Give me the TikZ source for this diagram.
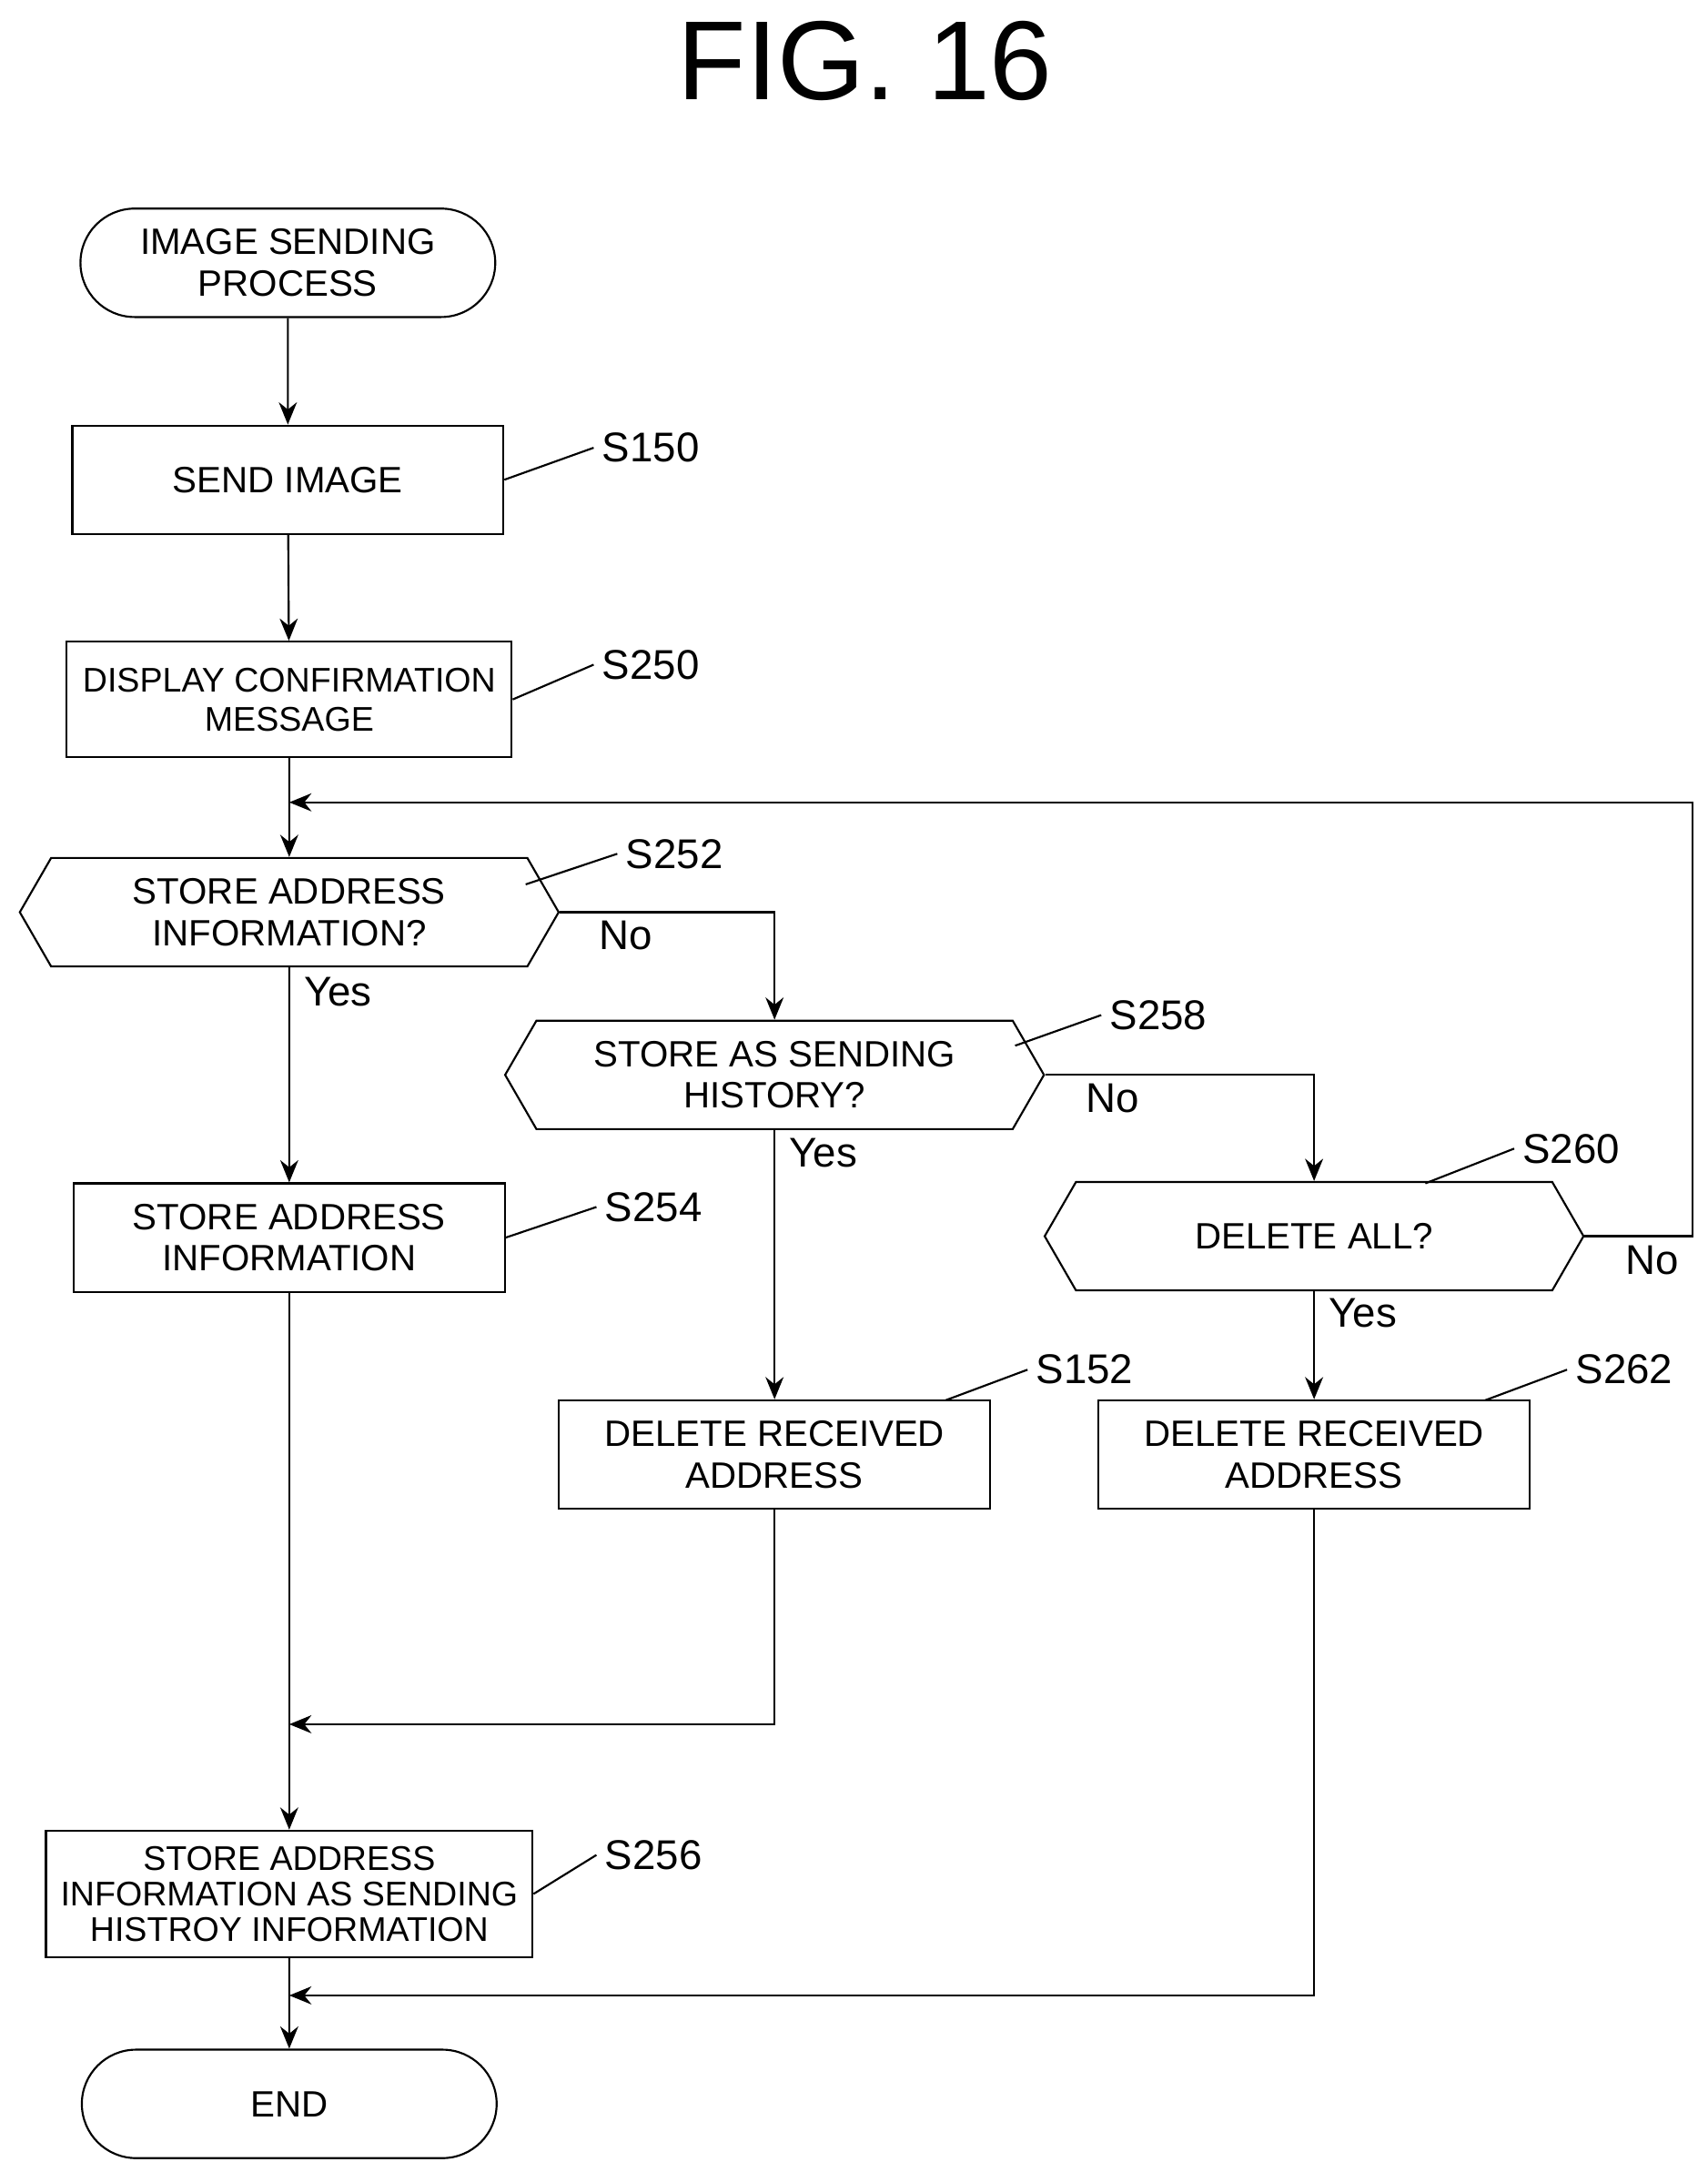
\documentclass[tikz,border=0pt]{standalone}
\usepackage{fontspec}
\setmainfont{Liberation Sans}
\usetikzlibrary{shapes.symbols,shapes.misc,arrows.meta}
\tikzset{
  box/.style={draw, thick, minimum width=6.2cm, minimum height=1.56cm, align=center, inner sep=1pt},
  term/.style={draw, thick, rounded rectangle, minimum width=6.2cm, minimum height=1.56cm, align=center},
  dec/.style={draw, thick, signal, signal to=east and west, signal pointer angle=120, minimum width=7.75cm, minimum height=1.56cm, align=center, inner sep=1pt},
  arr/.style={thick, -{Stealth[length=3.2mm,width=2.6mm]}},
  lead/.style={thick},
  lbl/.style={font=\fontsize{17}{20}\selectfont}
}
\begin{document}
\begin{tikzpicture}[x=0.2mm,y=-0.2mm, every node/.append style={font=\fontsize{15}{17}\selectfont}]
\useasboundingbox (0,0) rectangle (1228,1562);
\node[font=\fontsize{46}{50}\selectfont] (title) at (622,44) {FIG. 16};

\node[term] (start) at (207,189) {IMAGE SENDING\\PROCESS};
\node[box] (s150) at (207,345) {SEND IMAGE};
\node[box, minimum width=6.4cm, minimum height=1.66cm, font=\fontsize{14}{16}\selectfont] (s250) at (208,503) {DISPLAY CONFIRMATION\\MESSAGE};
\node[dec] (s252) at (208,656) {STORE ADDRESS\\INFORMATION?};
\node[dec] (s258) at (557,773) {STORE AS SENDING\\HISTORY?};
\node[dec] (s260) at (945,889) {DELETE ALL?};
\node[box] (s254) at (208,890) {STORE ADDRESS\\INFORMATION};
\node[box] (s152) at (557,1046) {DELETE RECEIVED\\ADDRESS};
\node[box] (s262) at (945,1046) {DELETE RECEIVED\\ADDRESS};
\node[box, minimum width=7cm, minimum height=1.82cm, font=\fontsize{14}{14.5}\selectfont] (s256) at (208,1362) {STORE ADDRESS\\INFORMATION AS SENDING\\HISTROY INFORMATION};
\node[term] (end) at (208,1513) {END};

% step labels
\node[lbl] (l150) at (468,322) {S150};
\node[lbl] (l250) at (468,478) {S250};
\node[lbl] (l252) at (485,614) {S252};
\node[lbl] (l258) at (833,730) {S258};
\node[lbl] (l260) at (1130,826) {S260};
\node[lbl] (l254) at (470,868) {S254};
\node[lbl] (l152) at (780,985) {S152};
\node[lbl] (l262) at (1168,985) {S262};
\node[lbl] (l256) at (470,1334) {S256};
\draw[lead] (s150.east) -- (l150.west);
\draw[lead] (s250.east) -- (l250.west);
\draw[lead] (378,636) -- (l252.west);
\draw[lead] (730,752) -- (l258.west);
\draw[lead] (1025,851) -- (l260.west);
\draw[lead] (s254.east) -- (l254.west);
\draw[lead] (680,1007) -- (l152.west);
\draw[lead] (1068,1007) -- (l262.west);
\draw[lead] (s256.east) -- (l256.west);

% yes / no
\node[lbl] (y252) at (243,713) {Yes};
\node[lbl] (y258) at (592,829) {Yes};
\node[lbl] (y260) at (980,944) {Yes};
\node[lbl] (n252) at (450,673) {No};
\node[lbl] (n258) at (800,790) {No};
\node[lbl] (n260) at (1188,906) {No};

\coordinate (m1) at (208,577);
\coordinate (m2) at (208,1240);
\coordinate (m3) at (208,1435);

\draw[arr] (start) -- (s150);
\draw[arr] (s150) -- (s250);
\draw[arr] (s250) -- (s252);
\draw[arr] (s252) -- (s254);
\draw[arr] (s252.east) -| (s258.north);
\draw[arr] (s258.east) -| (s260.north);
\draw[arr] (s258.south) -- (s152.north);
\draw[arr] (s260.south) -- (s262.north);
\draw[arr] (s260.east) -- (1217,889) -- (1217,577) -- (m1);
\draw[arr] (s254) -- (s256);
\draw[arr] (s152.south) |- (m2);
\draw[arr] (s256) -- (end);
\draw[arr] (s262.south) |- (m3);
\end{tikzpicture}
\end{document}
